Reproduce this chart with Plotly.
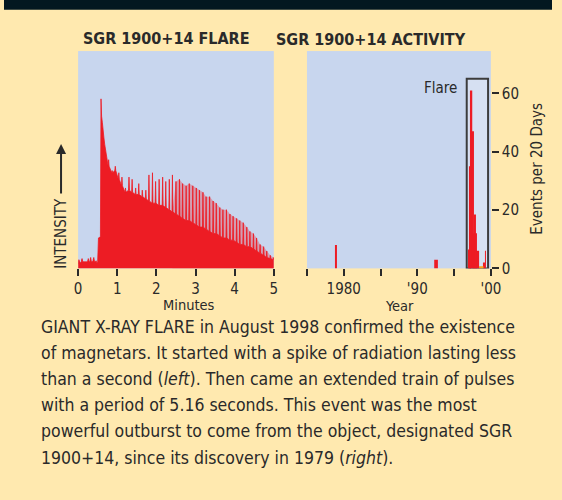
import plotly.graph_objects as go

# ---------------- data ----------------
# Left panel: flare light curve (minutes, relative intensity 0-100 of panel height)
pre_t = [0.00, 0.02, 0.04, 0.06, 0.08, 0.10, 0.12, 0.14, 0.16, 0.18, 0.20, 0.22, 0.24, 0.26,
         0.28, 0.30, 0.32, 0.34, 0.36, 0.38, 0.40, 0.42, 0.44, 0.46, 0.48, 0.50, 0.52, 0.57,
         0.585, 0.60, 0.62, 0.64, 0.66, 0.68, 0.70, 0.72, 0.74]
pre_v = [2, 4, 3, 2.5, 3, 4.5, 3, 3, 3, 3, 3, 3, 3, 4.5,
         3, 3, 5, 3, 3, 3.5, 5, 3, 3, 3.5, 2.5, 3, 14, 14.5,
         78, 70, 67, 62, 60, 57, 55, 52, 50]

pulse_t = [0.78, 0.87, 0.95, 1.04, 1.12, 1.21, 1.30, 1.38, 1.47, 1.55, 1.64, 1.73, 1.81, 1.90,
           1.98, 2.07, 2.16, 2.24, 2.33, 2.41, 2.50, 2.59, 2.67, 2.76, 2.84, 2.93, 3.02, 3.10,
           3.19, 3.27, 3.36, 3.45, 3.53, 3.62, 3.70, 3.79, 3.88, 3.96, 4.05, 4.13, 4.22, 4.31,
           4.39, 4.48, 4.56, 4.65, 4.74, 4.82, 4.91, 4.99]
pulse_peak = [50, 45, 47, 44, 42, 37, 42, 41, 37, 39, 36, 36, 43, 44,
              40, 41, 42, 40, 41, 43, 40, 41, 39, 38, 39, 38, 37, 36,
              35, 33, 33, 31, 30, 28, 27, 27, 25, 24, 23, 22, 21, 19,
              17, 16, 14, 11, 10, 8, 6, 5]
pulse_trough = [47, 44, 45, 41, 38, 35, 36, 35, 34, 34, 33, 32, 31, 30,
                30, 29, 29, 28, 27, 26, 25, 24, 23, 22, 22, 21, 20, 19,
                19, 18, 17, 16, 16, 15, 14, 14, 13, 13, 12, 11, 11, 10,
                10, 9, 8, 7, 6, 5, 4.5, 4]
haze_from = 2.41   # pinkish pulse haze visible from here on

minute_ticks = [0, 1, 2, 3, 4, 5]

# Right panel: events per 20 days (bin start year, bin end year, count)
red_start = [1978.87, 1992.30, 1996.94, 1997.07, 1997.16, 1997.29, 1997.47, 1997.60, 1997.73,
             1997.87, 1998.00, 1999.02, 1999.20]
red_end = [1979.05, 1992.80, 1997.07, 1997.16, 1997.29, 1997.47, 1997.60, 1997.73, 1997.87,
           1998.00, 1998.40, 1999.20, 1999.28]
red_count = [8, 3, 6.5, 35, 12.5, 61, 47, 12, 18.5, 12, 6, 2, 6]
orange_start = [1998.40]
orange_end = [1999.00]
orange_count = [0.7]

year_ticks = [1975, 1980, 1985, 1990, 1995, 2000]
year_labels = ["", "1980", "", "'90", "", "'00"]
count_ticks = [0, 20, 40, 60]
flare_box = [1996.72, 1999.62, 65]

caption = [
    "GIANT X-RAY FLARE in August 1998 confirmed the existence",
    "of magnetars. It started with a spike of radiation lasting less",
    "than a second (<i>left</i>). Then came an extended train of pulses",
    "with a period of 5.16 seconds. This event was the most",
    "powerful outburst to come from the object, designated SGR",
    "1900+14, since its discovery in 1979 (<i>right</i>).",
]

# ---------------- styling ----------------
W, H = 562, 500
BG = "#FFE9AF"
PLOT_BG = "#C8D6EE"
RED = "#ED1C24"
PINK = "rgba(237,28,36,0.30)"
ORANGE = "#F7A21B"
INK = "#2A2A2A"
FONT = "DejaVu Sans Condensed, DejaVu Sans, sans-serif"


def px(x):
    return x / W


def py(y):
    return 1 - y / H


# pink haze through the pulse peaks (later part of the train)
env_x, env_y = [], []
for t, pk, tr in zip(pulse_t, pulse_peak, pulse_trough):
    if t >= haze_from:
        env_x.append(t)
        env_y.append(tr if not env_x[:-1] else pk)

# solid light-curve outline built from the data arrays
lc_x = list(pre_t)
lc_y = list(pre_v)
for t, pk, tr in zip(pulse_t, pulse_peak, pulse_trough):
    lc_x += [t - 0.012, t, t + 0.012]
    lc_y += [tr, pk, tr]
lc_x += [5.0]
lc_y += [pulse_trough[-1]]

fig = go.Figure()
fig.add_trace(go.Scatter(x=env_x, y=env_y, mode="lines", fill="tozeroy",
                         fillcolor=PINK, line=dict(width=0),
                         xaxis="x", yaxis="y", hoverinfo="skip"))
fig.add_trace(go.Scatter(x=lc_x, y=lc_y, mode="lines", fill="tozeroy",
                         fillcolor=RED, line=dict(color=RED, width=0.8),
                         xaxis="x", yaxis="y", hoverinfo="skip"))

fig.add_trace(go.Bar(x=[(a + b) / 2 for a, b in zip(red_start, red_end)],
                     y=red_count, width=[b - a for a, b in zip(red_start, red_end)],
                     marker=dict(color=RED, line=dict(width=0)), xaxis="x2", yaxis="y2"))
fig.add_trace(go.Bar(x=[(a + b) / 2 for a, b in zip(orange_start, orange_end)],
                     y=orange_count, width=[b - a for a, b in zip(orange_start, orange_end)],
                     marker=dict(color=ORANGE, line=dict(width=0)), xaxis="x2", yaxis="y2"))

axis_common = dict(showgrid=False, zeroline=False, showline=False, ticks="outside",
                   ticklen=7, tickwidth=1.5, tickcolor=INK,
                   tickfont=dict(family=FONT, size=15, color=INK))

fig.update_layout(
    width=W, height=H, margin=dict(l=0, r=0, t=0, b=0),
    paper_bgcolor=BG, plot_bgcolor=PLOT_BG, showlegend=False, barmode="overlay",
    hovermode=False,
    xaxis=dict(domain=[px(76), px(276.7)], range=[0, 5], tickvals=minute_ticks,
               anchor="y", **axis_common),
    yaxis=dict(domain=[py(273.3), py(52)], range=[0, 100], visible=False, anchor="x"),
    xaxis2=dict(domain=[px(310.7), px(499.3)], range=[1975, 2000], tickvals=year_ticks,
                ticktext=year_labels, anchor="y2", **axis_common),
    yaxis2=dict(domain=[py(273.3), py(52)], range=[0, 74.5], side="right", anchor="x2",
                tickvals=count_ticks, **axis_common),
)

# flare box
fig.add_shape(type="rect", xref="x2", yref="y2", x0=flare_box[0], x1=flare_box[1],
              y0=0, y1=flare_box[2], fillcolor="#D6E0F2",
              line=dict(color="#3C3C3C", width=2), layer="below")

# top dark band
fig.add_shape(type="rect", xref="paper", yref="paper", x0=0, x1=1, y0=py(10), y1=1,
              fillcolor="#031820", line=dict(width=0))


def label(text, x, y, size=15, xanchor="center", angle=0):
    return dict(text=text, x=px(x), y=py(y), xref="paper", yref="paper",
                xanchor=xanchor, yanchor="middle", showarrow=False, textangle=angle,
                font=dict(family=FONT, size=size, color=INK))


ann = [
    label("<b>SGR 1900+14 FLARE</b>", 167, 39.5, size=16),
    label("<b>SGR 1900+14 ACTIVITY</b>", 376.6, 40, size=16),
    label("Minutes", 190, 310.5, size=14.5),
    label("Year", 405.7, 311.5, size=14.5),
    label("Events per 20 Days", 546.7, 171.7, angle=-90),
    label("INTENSITY", 58.5, 238, angle=-90),
    label("Flare", 467, 89.5, xanchor="right"),
    dict(text="", x=px(58.5), y=py(146.7), xref="paper", yref="paper",
         showarrow=True, ax=0, ay=51, arrowhead=2, arrowsize=1, arrowwidth=2,
         arrowcolor=INK),
]
for i, line in enumerate(caption):
    ann.append(label(line, 36, 333 + 26.6 * i, size=17.5, xanchor="left"))
fig.update_layout(annotations=ann)

fig.write_html("out.html",
               config={"displayModeBar": False, "responsive": False},
               post_script="document.body.style.margin='0';"
                           "document.body.style.overflow='hidden';")
